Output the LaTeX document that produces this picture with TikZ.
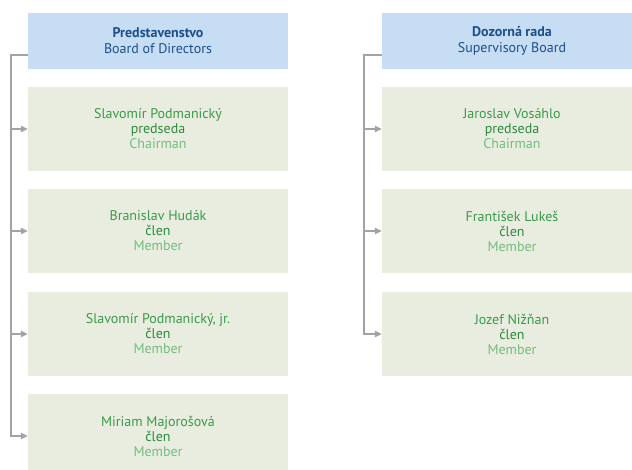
\documentclass[tikz,border=0pt]{standalone}
\usepackage{fontspec}
\setmainfont{PT Sans}
\usetikzlibrary{arrows.meta, positioning, calc}
\definecolor{headfill}{HTML}{C6DDF3}
\definecolor{headtext}{HTML}{1D4F8B}
\definecolor{memfill}{HTML}{E9EDDF}
\definecolor{namegreen}{HTML}{3A9A4A}
\definecolor{rolegreen}{HTML}{2C8A3C}
\definecolor{titlegreen}{HTML}{72BD80}
\definecolor{linegrey}{HTML}{A3A3A3}

\begin{document}
\begin{tikzpicture}[x=1pt, y=-1pt,
		head/.style={fill=headfill, minimum width=260pt, minimum height=56pt, inner sep=0pt, align=center, text=headtext, font=\fontsize{14}{16}\selectfont},
		member/.style={fill=memfill, minimum width=260pt, minimum height=84pt, inner sep=0pt, align=center, font=\fontsize{14}{15}\selectfont},
		link/.style={draw=linegrey, line width=1.4pt, -{Triangle[length=7pt, width=6.5pt]}}]
		
		\useasboundingbox (0,0) rectangle (632,470);
		
		% predstavenstvo
		\node[head] (bd) at (158,41) {\textbf{Predstavenstvo}\\Board of Directors};
		\node[member] (bd1) at (158,129) {\color{namegreen}Slavomír Podmanický\\\color{rolegreen}predseda\\\color{titlegreen}Chairman};
		\node[member] (bd2) at (158,231) {\color{namegreen}Branislav Hudák\\\color{rolegreen}člen\\\color{titlegreen}Member};
		\node[member] (bd3) at (158,334) {\color{namegreen}Slavomír Podmanický, jr.\\\color{rolegreen}člen\\\color{titlegreen}Member};
		\node[member] (bd4) at (158,436) {\color{namegreen}Miriam Majorošová\\\color{rolegreen}člen\\\color{titlegreen}Member};
		
		% dozorna rada
		\node[head] (sb) at (512,41) {\textbf{Dozorná rada}\\Supervisory Board};
		\node[member] (sb1) at (512,129) {\color{namegreen}Jaroslav Vosáhlo\\\color{rolegreen}predseda\\\color{titlegreen}Chairman};
		\node[member] (sb2) at (512,231) {\color{namegreen}František Lukeš\\\color{rolegreen}člen\\\color{titlegreen}Member};
		\node[member] (sb3) at (512,334) {\color{namegreen}Jozef Nižňan\\\color{rolegreen}člen\\\color{titlegreen}Member};
		
		\coordinate (bdout) at ($(bd.west)+(0,14)$);
		\coordinate (sbout) at ($(sb.west)+(0,14)$);
		
		\draw[link] (bdout) -- ++(-17,0) |- (bd4.west);
		\foreach \m in {bd1,bd2,bd3}
		\draw[link] (\m.west) ++(-17,0) -- (\m.west);
		
		\draw[link] (sbout) -- ++(-18,0) |- (sb3.west);
		\foreach \m in {sb1,sb2}
		\draw[link] (\m.west) ++(-18,0) -- (\m.west);
		
	\end{tikzpicture}
\end{document}
